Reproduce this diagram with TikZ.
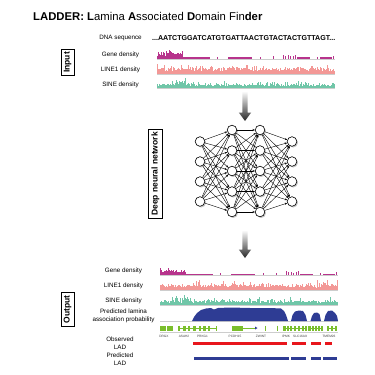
\documentclass[tikz,border=0pt]{standalone}
\usepackage{fontspec}
\setmainfont{Liberation Sans}
\usetikzlibrary{arrows.meta,shadows}

\definecolor{genecol}{RGB}{183,52,140}
\definecolor{lineone}{RGB}{243,152,150}
\definecolor{sinecol}{RGB}{112,198,168}
\definecolor{basegray}{RGB}{205,205,205}
\definecolor{ladblue}{RGB}{46,60,148}
\definecolor{ladred}{RGB}{232,22,28}
\definecolor{exongreen}{RGB}{122,190,44}

\tikzset{
  neuron/.style={circle,draw,line width=0.6pt,fill=white,minimum size=9.6pt,inner sep=0pt,
    drop shadow={shadow xshift=1.2pt,shadow yshift=-1.2pt,fill=black!45}},
  link/.style={-{Stealth[length=2.4pt,width=2pt]},line width=0.4pt},
  secbox/.style={draw,line width=0.7pt,rotate=90,inner sep=2.8pt,font=\bfseries\fontsize{8.5}{9}\selectfont},
  tracklabel/.style={align=center,inner sep=0pt,font=\fontsize{6.3}{8}\selectfont},
  genename/.style={inner sep=0pt,font=\fontsize{3.2}{3.2}\selectfont,text=black!75},
  gradarrow/.style={top color=white,bottom color=black!85,draw=none}
}

% gene / LINE1 / SINE density tracks, local origin at the gene baseline
\newcommand\densitytracks[1]{%
  \pgfmathsetseed{#1}
  \fill[basegray] (0,0) rectangle (178,1.4);
  \foreach \i in {0,...,25}{\pgfmathsetmacro\h{2.5+3*rnd+3*rnd^3}\fill[genecol] (\i,0) rectangle (\i+1,-\h);}
  \foreach \a/\b in {26/53,71/95,140/153,163/175}
    \fill[genecol] (\a,0) rectangle (\b,-1.5);
  \foreach \a/\h in {60/2,103/2,116/2.5,126/4,128/3,131/3.5,133/2.5,136/3,138/4,160/2,176/3}
    \fill[genecol] (\a,0) rectangle (\a+1,-\h);
  \fill[basegray] (0,15) rectangle (178,16.4);
  \foreach \i in {0,...,177}{\pgfmathsetmacro\h{2.5+3*rnd+5*rnd^4}\fill[lineone] (\i,15) rectangle (\i+1,15-\h);}
  \fill[basegray] (0,29.5) rectangle (178,30.9);
  \foreach \i in {0,...,177}{\pgfmathsetmacro\h{1.5+2.5*rnd+4*rnd^4+and(\i>14,\i<30)*5*rnd}\fill[sinecol] (\i,29.5) rectangle (\i+1,29.5-\h);}
}

\begin{document}
\begin{tikzpicture}[x=1pt,y=-1pt]
\useasboundingbox (0,0) rectangle (375,375);
\node[anchor=base west,inner sep=0pt,font=\fontsize{11.3}{13}\selectfont] (title) at (33,20)
  {\textbf{LADDER:} \textbf{L}amina \textbf{A}ssociated \textbf{D}omain Fin\textbf{der}};

% input
\node[secbox] (input) at (67.5,62.5) {Input};
\node[tracklabel] (dna) at (120.5,38) {DNA sequence};
\node[anchor=west,inner sep=0pt,font=\bfseries\fontsize{7.1}{8}\selectfont] (seq) at (152,38)
  {...AATCTGGATCATGTGATTAACTGTACTACTGTTAGT...};
\node[tracklabel] (genein) at (120.5,55) {Gene density};
\node[tracklabel] (lineonein) at (120.5,70) {LINE1 density};
\node[tracklabel] (sinein) at (120.5,85) {SINE density};
\begin{scope}[shift={(157,58.5)}]
  \densitytracks{3}
\end{scope}

\coordinate (arrowin) at (245,91);
\shade[gradarrow] (arrowin) ++(-2.6,0) -- ++(5.2,0) -- ++(0,21.5) -- ++(3.6,0) -- ++(-6.2,8.5)
  -- ++(-6.2,-8.5) -- ++(3.6,0) -- cycle;

% network
\node[secbox] (dnn) at (155.5,174) {Deep neural network};
\foreach \j in {1,...,4} \node[neuron] (a\j) at (200,121.5+20*\j) {};
\foreach \j in {1,...,5} {
  \node[neuron] (b\j) at (232,109.5+20.5*\j) {};
  \node[neuron] (c\j) at (260,109.5+20.5*\j) {};
}
\foreach \j in {1,...,4} \node[neuron] (d\j) at (292,121.5+20*\j) {};
\foreach \i in {1,...,4} \foreach \j in {1,...,5} \draw[link] (a\i) -- (b\j);
\foreach \i in {1,...,5} \foreach \j in {1,...,5} \draw[link] (b\i) -- (c\j);
\foreach \i in {1,...,5} \foreach \j in {1,...,4} \draw[link] (c\i) -- (d\j);

\coordinate (arrowout) at (245,230);
\shade[gradarrow] (arrowout) ++(-2.6,0) -- ++(5.2,0) -- ++(0,19.5) -- ++(3.6,0) -- ++(-6.2,8.5)
  -- ++(-6.2,-8.5) -- ++(3.6,0) -- cycle;

% output
\node[secbox] (output) at (67.5,309.5) {Output};
\node[tracklabel] (geneout) at (123.5,270.5) {Gene density};
\node[tracklabel] (lineoneout) at (123.5,285.5) {LINE1 density};
\node[tracklabel] (sineout) at (123.5,301) {SINE density};
\node[tracklabel] (prob) at (123.5,316) {Predicted lamina\\association probability};
\begin{scope}[shift={(160,275)}]
  \densitytracks{11}
\end{scope}

\fill[basegray] (160,321) rectangle (338,322.4);
\fill[ladblue] (192,321) -- (194,317) -- (197,313) -- (201,310) -- (206,308.5) -- (211,308) -- (214,309.5)
  -- (218,308) -- (230,307.5) -- (250,308) -- (270,308) -- (281,308.5) -- (284,311) -- (286,315) -- (288,321) -- cycle;
\fill[ladblue] (291,321) -- (292.5,315) -- (295,311.5) -- (299,310.5) -- (303,311) -- (305.5,315) -- (307,321) -- cycle;
\fill[ladblue] (310.5,321) -- (312,316) -- (314,313) -- (317,312.5) -- (319.5,314) -- (321,321) -- cycle;
\fill[ladblue] (324,321) -- (325.5,315) -- (328,311) -- (332,310.5) -- (335,313) -- (337,316) -- (338,321) -- cycle;

\fill[basegray] (160,332) rectangle (338,333);
\foreach \a/\b in {178/217,243/255,283/307,308/323,327/337}
  \draw[exongreen,line width=0.5pt] (\a,328) -- (\b,328);
\foreach \a/\b in {160/166,167/173,178/180,183/186,188/190,193/196,199/201,203/206,208/210,216/217,232/243,
  283/286,287/289,290/292,294/296,298/300,302/304,305/307,308/311,312/314,315/317,318/320,321/323,327/329,331/333,335/337}
  \fill[exongreen] (\a,325.5) rectangle (\b,330.5);
\foreach \a in {265,277} \draw[exongreen,line width=0.6pt] (\a,325.5) -- (\a,330.5);
\fill[ladblue] (255,326.5) -- (257.5,328) -- (255,329.5) -- cycle;
\foreach \x/\g in {164/DRGX,184/ASAH2,202.5/PRKG1,235/PCDH15,261/ZWINT,286/IPMK,300/SLC16A9,329/TMEM26}
  \node[genename] (g-\g) at (\x,336.5) {\g};

\node[tracklabel] (obs) at (120,343) {Observed\\LAD};
\node[tracklabel] (pred) at (120,359) {Predicted\\LAD};
\foreach \a/\b in {193/287,292/306,311/321,325/332} \fill[ladred] (\a,341.5) rectangle (\b,345);
\foreach \a/\b in {194/289,291/306,311/321,323/337} \fill[ladblue] (\a,356.5) rectangle (\b,360);
\end{tikzpicture}
\end{document}
